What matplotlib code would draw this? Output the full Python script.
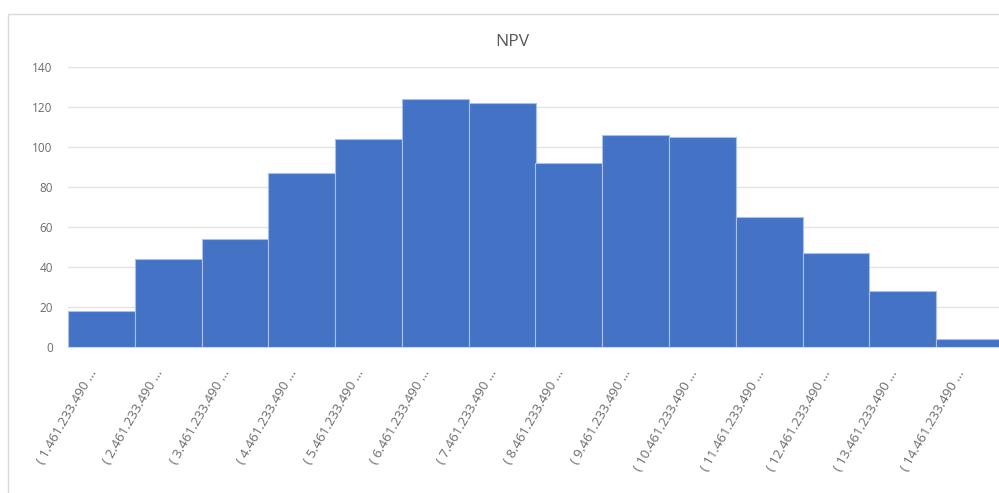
import matplotlib
matplotlib.use("Agg")
import matplotlib.pyplot as plt
import matplotlib.transforms as mtransforms
from matplotlib.patches import Rectangle

# Histogram of NPV outcomes (bin counts)
bin_labels = [
    "( 1.461.233.490 ...", "( 2.461.233.490 ...", "( 3.461.233.490 ...",
    "( 4.461.233.490 ...", "( 5.461.233.490 ...", "( 6.461.233.490 ...",
    "( 7.461.233.490 ...", "( 8.461.233.490 ...", "( 9.461.233.490 ...",
    "( 10.461.233.490 ...", "( 11.461.233.490 ...", "( 12.461.233.490 ...",
    "( 13.461.233.490 ...", "( 14.461.233.490 ...",
]
counts = [18, 44, 54, 87, 104, 124, 122, 92, 106, 105, 65, 47, 28, 4]
y_ticks = [0, 20, 40, 60, 80, 100, 120, 140]
title = "NPV"

W, H = 999, 493
fig = plt.figure(figsize=(W / 100, H / 100), dpi=100)
fig.patch.set_facecolor("white")

# chart frame (runs past the right and bottom edges)
fig.patches.append(Rectangle((8 / W, -0.05), 1.1, 1 - 14 / H + 0.05,
                             transform=fig.transFigure, fill=False,
                             edgecolor="#d9d9d9", linewidth=1.0, zorder=0))

left, right, top, bottom = 68, 1003, 67, 347
ax = fig.add_axes([left / W, 1 - bottom / H, (right - left) / W, (bottom - top) / H])
ax.set_facecolor("none")

x = list(range(len(counts)))
ax.bar(x, counts, width=1.0, color="#4472C4", edgecolor="#a9c0ea",
       linewidth=0.8, zorder=3)

ax.set_xlim(-0.5, len(counts) - 0.5)
ax.set_ylim(0, 140)
ax.set_yticks(y_ticks)
ax.set_yticklabels([str(v) for v in y_ticks])
ax.yaxis.grid(True, color="#e3e3e3", linewidth=1.0, zorder=0)
ax.set_axisbelow(True)

for s in ["top", "right", "left"]:
    ax.spines[s].set_visible(False)
ax.spines["bottom"].set_color("#d9d9d9")

ax.tick_params(axis="y", length=0, pad=11, labelsize=8.5, labelcolor="#6b6b6b")
ax.tick_params(axis="x", length=0, pad=17, labelsize=9.5, labelcolor="#6b6b6b")
ax.set_xticks(x)
ax.set_xticklabels(bin_labels, rotation=60, ha="right", va="center",
                   rotation_mode="anchor")
shift = mtransforms.ScaledTranslation(-8 / 100, 0, fig.dpi_scale_trans)
for lbl in ax.get_xticklabels():
    lbl.set_transform(lbl.get_transform() + shift)
for lbl in ax.get_xticklabels() + ax.get_yticklabels():
    lbl.set_fontfamily("Open Sans")

fig.text(512 / W, 1 - 42 / H, title, ha="center", va="center",
         fontsize=12.5, color="#595959", fontfamily="Open Sans")

fig.savefig("out.png", dpi=100)
